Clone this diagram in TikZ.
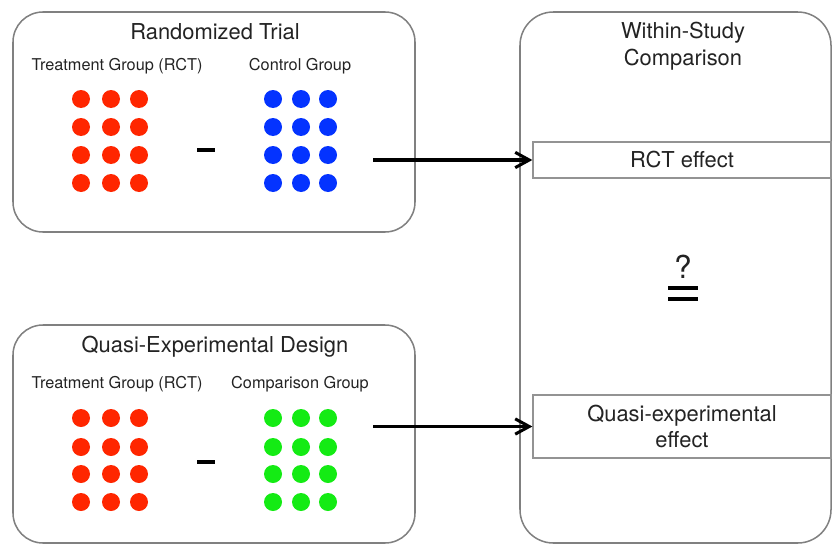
\documentclass[tikz,border=0pt]{standalone}
\usepackage{fontspec}
\setmainfont{TeX Gyre Heros}
\usepackage{tikz}
\usetikzlibrary{arrows.meta, positioning, calc}
\definecolor{cRedDot}{RGB}{255,38,0}
\definecolor{cBlueDot}{RGB}{4,51,255}
\definecolor{cGreenDot}{RGB}{20,235,20}
\definecolor{cFrame}{RGB}{128,128,128}
\definecolor{cInk}{RGB}{35,35,35}
\newcommand{\bigtxt}{\fontsize{18.7}{23}\selectfont}
\newcommand{\smalltxt}{\fontsize{13.9}{17}\selectfont}
\tikzset{
	panel/.style ={draw=cFrame, line width=1.3pt, rounded corners=9mm},
	effbox/.style={rectangle, draw=cFrame!85, line width=1.1pt, minimum width=89.4mm, inner sep=0pt, text centered, align=center, font=\bigtxt, text=cInk},
	ttl/.style   ={font=\bigtxt, text=cInk, align=center},
	grp/.style   ={font=\smalltxt, text=cInk},
	feed/.style  ={-{Straight Barb[length=4.2mm, width=4.6mm]}, line width=2.6pt},
	bar/.style   ={line width=3.2pt},
	% one coloured person
	dot/.style   ={radius=2.7mm},
}

\begin{document}
\begin{tikzpicture}[x=0.3mm, y=-0.3mm]
	\useasboundingbox (0,0) rectangle (833,544);
	% the three panels
	\draw[panel] (13,12) rectangle (415,232);
	\draw[panel] (13,325) rectangle (415,543);
	\draw[panel, rounded corners=10mm] (520,12) rectangle (831,543);
	% headings
	\node[ttl, anchor=base] (rtitle) at (215,39.5) {Randomized Trial};
	\node[grp, anchor=base] (rtreat) at (117,70.5) {Treatment Group (RCT)};
	\node[grp, anchor=base] (rctrl) at (300,70.5) {Control Group};
	\node[ttl, anchor=base] (qtitle) at (215,352.5) {Quasi-Experimental Design};
	\node[grp, anchor=base] (qtreat) at (117,388.5) {Treatment Group (RCT)};
	\node[grp, anchor=base] (qcomp) at (300,388.5) {Comparison Group};
	\node[ttl] (wtitle) at (683,46) {Within-Study\\Comparison};
	% groups of units
	\foreach \r in {99,127,155,183}{
		\foreach \c in {81,111,139} \fill[cRedDot] (\c,\r) circle[dot];
		\foreach \c in {273,301,328} \fill[cBlueDot] (\c,\r) circle[dot];
	}
	\foreach \r in {418,447,474,502}{
		\foreach \c in {81,111,139} \fill[cRedDot] (\c,\r) circle[dot];
		\foreach \c in {273,301,328} \fill[cGreenDot] (\c,\r) circle[dot];
	}
	\draw[bar] (197,150) -- (215,150);
	\draw[bar] (197,462) -- (215,462);
	% estimates to compare
	\node[effbox, minimum height=10.8mm] (rcteff) at (682,160) {RCT effect};
	\node[effbox, minimum height=18.9mm] (qeff) at (682,426.5) {Quasi-experimental\\effect};
	\node[font=\fontsize{27}{30}\selectfont, text=cInk] (qmark) at (683,267) {?};
	\draw[line width=2.8pt] (668,288) -- (698,288);
	\draw[line width=2.8pt] (668,299) -- (698,299);
	\coordinate (rout) at (373,160);
	\coordinate (qout) at (373,426.5);
	\draw[feed] (rout) -- (rcteff.west);
	\draw[feed] (qout) -- (qeff.west);
\end{tikzpicture}
\end{document}
